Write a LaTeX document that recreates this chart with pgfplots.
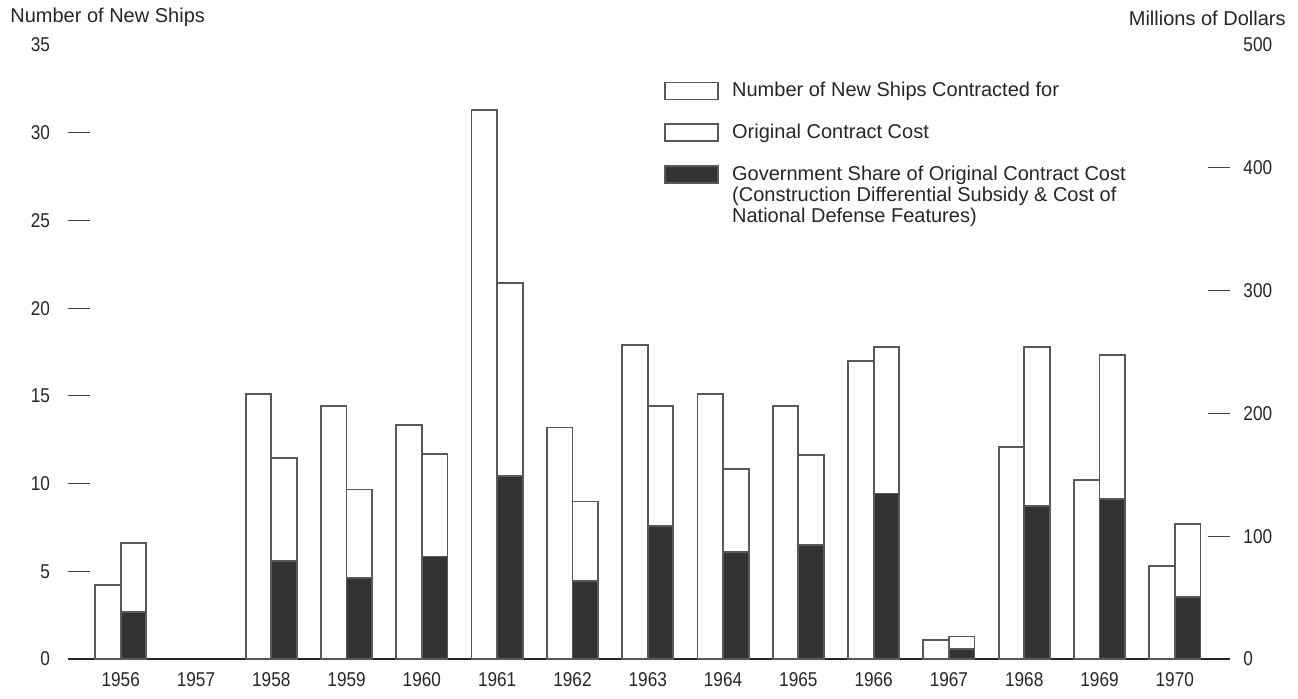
\documentclass[border=0pt]{standalone}
\usepackage{fontspec}
\setmainfont{Liberation Sans}
\newfontfamily\tickfont{Liberation Sans}[FakeStretch=0.86]
\usepackage{pgfplots}
\pgfplotsset{compat=1.18}
\usepackage{pgfplotstable}

\pgfplotstableread{
year ships
1956 4.2
1958 15.1
1959 14.4
1960 13.35
1961 31.3
1962 13.2
1963 17.9
1964 15.1
1965 14.4
1966 17.0
1967 1.1
1968 12.1
1969 10.2
1970 5.3
}\shipsdata

\pgfplotstableread{
year cost gov
1956 94.5 38.5
1958 163.7 79.9
1959 138.0 65.9
1960 166.7 83.5
1961 305.9 148.7
1962 128.2 63.4
1963 205.9 108.0
1964 155.0 87.2
1965 165.9 92.7
1966 254.0 134.8
1967 18.3 8.4
1968 254.0 124.9
1969 247.3 130.0
1970 109.9 50.5
}\costdata

\definecolor{outl}{gray}{0.35}
\definecolor{darkfill}{gray}{0.2}
\definecolor{txt}{gray}{0.15}

\begin{document}
\begin{tikzpicture}[font=\fontsize{10}{12}\selectfont, text=txt]
\pgfplotsset{
  common/.style={
    scale only axis, width=581pt, height=307pt,
    xmin=1955.30, xmax=1970.733,
    at={(0,0)}, anchor=south west,
    ybar, bar width=0.34,
    tick align=inside,
    ticklabel style={font=\tickfont\fontsize{10}{12}\selectfont, text=txt},
    /pgf/number format/assume math mode=true,
    major tick style={black!75, line width=0.5pt},
    major tick length=11pt,
    clip=false,
  }
}
\begin{axis}[common,
  ymin=0, ymax=35,
  axis lines*=left,
  x axis line style={line width=1.1pt, black!85},
  y axis line style={draw=none},
  xtick={1956,1957,1958,1959,1960,1961,1962,1963,1964,1965,1966,1967,1968,1969,1970},
  xticklabels={1956,1957,1958,1959,1960,1961,1962,1963,1964,1965,1966,1967,1968,1969,1970},
  xtick style={draw=none},
  xticklabel style={yshift=-3pt},
  ytick={5,10,15,20,25,30},
  extra y ticks={0,35},
  extra y tick style={major tick length=0pt},
  yticklabel style={xshift=-5.5pt},
]
\addplot[draw=outl, line width=0.9pt, fill=white, bar shift=-0.17] table[x=year, y=ships] {\shipsdata};
\end{axis}
\begin{axis}[common,
  ymin=0, ymax=500,
  axis x line=none,
  axis y line*=right,
  y axis line style={draw=none},
  ytick={100,200,300,400},
  extra y ticks={0,500},
  extra y tick style={major tick length=0pt},
  yticklabel style={xshift=3.2pt},
  legend style={at={(0.5078,0.9528)}, anchor=north west, draw=none, fill=none,
    font=\fontsize{10}{10.5}\selectfont, row sep=8pt, nodes={text=txt}},
  legend cell align=left,
  legend image code/.code={\draw[#1, line width=0.8pt] (0pt,-4.25pt) rectangle (26.5pt,4.25pt); \path (31pt,0pt);},
]
\addlegendimage{draw=outl, fill=white}
\addlegendentry{Number of New Ships Contracted for}
\addplot[draw=outl, line width=0.9pt, fill=white, bar shift=0.17] table[x=year, y=cost] {\costdata};
\addlegendentry{Original Contract Cost}
\addplot[draw=outl, line width=0.9pt, fill=darkfill, bar shift=0.17] table[x=year, y=gov] {\costdata};
\addlegendentry{\begin{tabular}[t]{@{}l@{}}Government Share of Original Contract Cost\\(Construction Differential Subsidy \& Cost of\\National Defense Features)\end{tabular}}
\end{axis}
\node[anchor=west, inner sep=0pt] at (-29pt,321pt) {Number of New Ships};
\node[anchor=east, inner sep=0pt] at (609pt,320.5pt) {Millions of Dollars};
\pgfresetboundingbox
\path (-34pt,-19.5pt) rectangle (615pt,329.5pt);
\end{tikzpicture}
\end{document}
